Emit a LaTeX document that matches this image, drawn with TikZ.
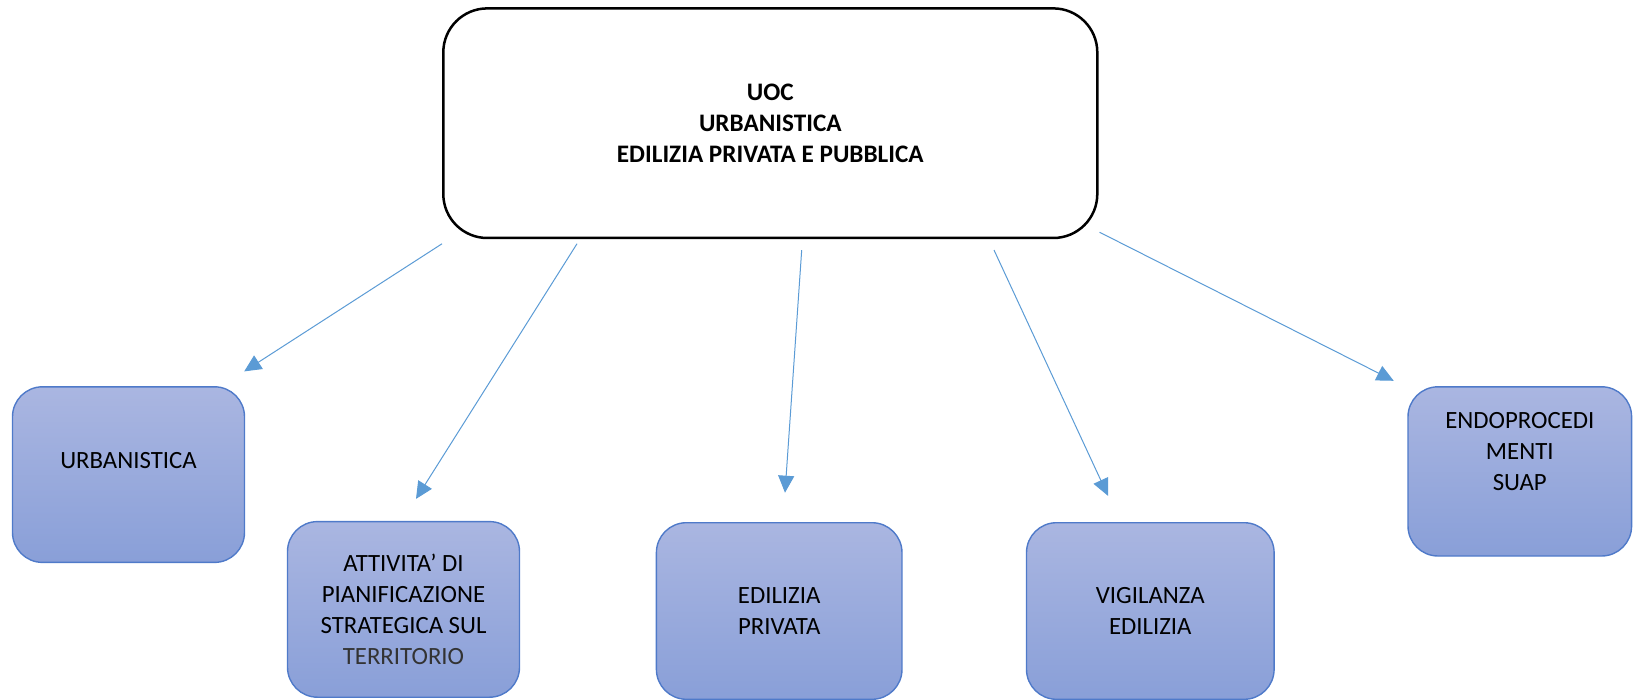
\documentclass[tikz,border=0pt]{standalone}
\usepackage{fontspec}
\setmainfont{Carlito}
\usepackage{tikz}
\usetikzlibrary{arrows.meta}
\usetikzlibrary{shapes.misc}
\definecolor{boxtop}{HTML}{AAB6E1}
\definecolor{boxbot}{HTML}{899FD8}
\definecolor{boxline}{HTML}{4F7AC9}
\definecolor{arrowblue}{HTML}{5B9BD5}

\begin{document}
\begin{tikzpicture}[x=0.5pt,y=-0.5pt,
  font=\fontsize{12.4}{15.6}\selectfont,
  headbox/.style={draw=black,line width=1.25pt,rounded corners=22pt,fill=white,
    minimum width=327pt,minimum height=114.8pt,align=center,font=\fontsize{12.6}{15.4}\selectfont\bfseries},
  subbox/.style={draw=boxline,line width=0.7pt,rounded corners=15pt,top color=boxtop,bottom color=boxbot,
    align=center,inner sep=0pt},
  conn/.style={draw=arrowblue,line width=0.5pt,-{Triangle[length=8.5pt,width=8pt]}}]
 \useasboundingbox (0,0) rectangle (1639,700);

 \node[headbox] (uoc) at (770.3,123.2) {UOC\\URBANISTICA\\EDILIZIA PRIVATA E PUBBLICA};

 \node[subbox,minimum width=116pt,minimum height=87.8pt,text depth=14pt] (urb) at (128.5,474.6) {URBANISTICA};
 \node[subbox,minimum width=116pt,minimum height=87.8pt] (att) at (403.5,609.4)
   {ATTIVITA' DI\\PIANIFICAZIONE\\STRATEGICA SUL\\{\color{black!80}TERRITORIO}};
 \node[subbox,minimum width=122.8pt,minimum height=88.3pt] (edi) at (779.2,611) {EDILIZIA\\PRIVATA};
 \node[subbox,minimum width=123.8pt,minimum height=88.3pt] (vig) at (1150.3,611) {VIGILANZA\\EDILIZIA};
 \node[subbox,minimum width=111.8pt,minimum height=84.6pt,text depth=20pt] (endo) at (1519.8,471.4)
   {ENDOPROCEDI\\MENTI\\SUAP};

 \draw[conn] ([shift={(0,4.5)}]uoc.south west) -- ([shift={(-1,-14.7)}]urb.north east);
 \draw[conn] ([shift={(-193.3,4.5)}]uoc.south) -- ([shift={(12.5,-22)}]att.north);
 \draw[conn] ([shift={(31.4,10.8)}]uoc.south) -- ([shift={(5.8,-29.3)}]edi.north);
 \draw[conn] ([shift={(223.7,10.8)}]uoc.south) -- ([shift={(-42.3,-26.2)}]vig.north);
 \draw[conn] ([shift={(1,-7)}]uoc.south east) -- ([shift={(-13.6,-5.3)}]endo.north west);
\end{tikzpicture}
\end{document}
